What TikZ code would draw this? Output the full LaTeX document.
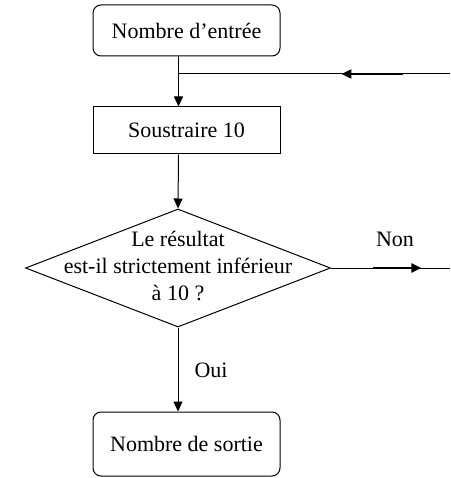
\documentclass[tikz,border=0pt]{standalone}
\usepackage{fontspec}
\setmainfont{Liberation Serif}
\usetikzlibrary{shapes.geometric,arrows.meta,calc}
\begin{document}
\begin{tikzpicture}[x=1pt,y=1pt,
  txt/.style={font=\fontsize{22}{27}\selectfont},
  termbox/.style={txt, draw, rounded corners=8pt, minimum width=187pt, line width=1pt, inner sep=0pt},
  procbox/.style={txt, draw, minimum width=187pt, line width=1pt, inner sep=0pt},
  decision/.style={draw, diamond, minimum width=305pt, minimum height=118pt, inner sep=0pt, line width=1pt},
  flow/.style={line width=1pt, -{Triangle[length=10pt,width=9pt]}},
  plainline/.style={line width=1pt},
  midarrow/.style={line width=2pt, -{Triangle[length=10pt,width=9pt]}}
]
\useasboundingbox (0,0) rectangle (450,-478);
% nodes
\node[termbox, minimum height=51pt] (start) at (186.5,-30.5) {Nombre d’entrée};
\node[procbox, minimum height=47pt] (sub) at (186.5,-130.5) {Soustraire 10};
\node[decision] (dec) at (178,-268) {};
\node[txt, align=center, inner sep=0pt] (dectxt) at (178,-266) {Le résultat\\est-il strictement inférieur\\à 10 ?};
\node[termbox, minimum height=64pt] (stop) at (186.5,-444) {Nombre de sortie};
\node[txt, inner sep=0pt] (non) at (395,-239) {Non};
\node[txt, inner sep=0pt] (oui) at (211,-370) {Oui};
% coordinates
\coordinate (col) at (178.5,0);
\coordinate (inR) at (450,-74);
\coordinate (join) at (178.5,-74);
\coordinate (outR) at (450,-268);
% connectors
\draw[flow] (start.south -| col) -- (sub.north -| col);
\draw[plainline] (inR) -- (join);
\path (inR) -- (join) coordinate[pos=0.173] (ma) coordinate[pos=0.40] (mb);
\draw[midarrow] (ma) -- (mb);
\draw[flow] (sub.south -| col) -- (dec.north);
\draw[plainline] (dec.east) -- (outR);
\path (dec.east) -- (outR) coordinate[pos=0.35] (na) coordinate[pos=0.76] (nb);
\draw[midarrow] (na) -- (nb);
\draw[flow] (dec.south) -- (stop.north -| dec.south);
\end{tikzpicture}
\end{document}
